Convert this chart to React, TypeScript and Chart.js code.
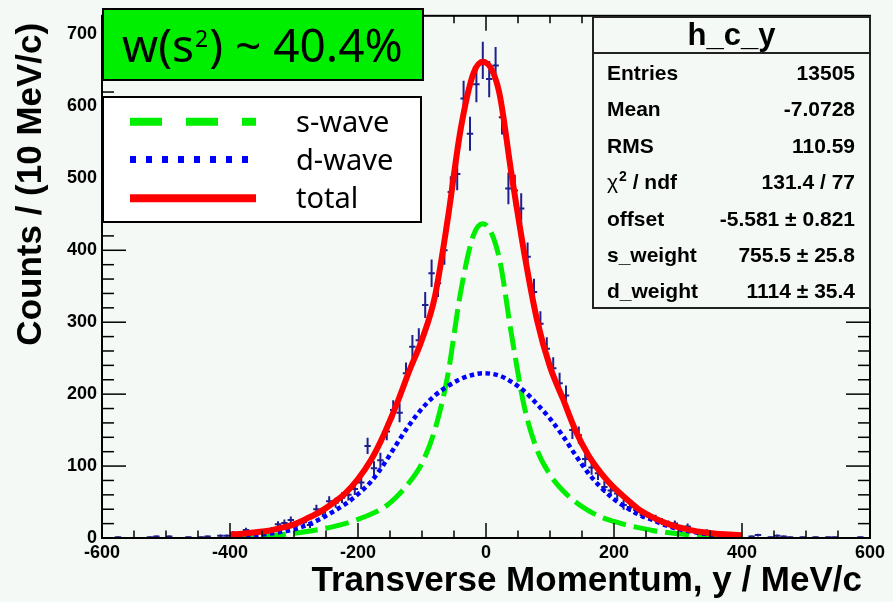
import React, { useEffect, useRef } from "react";
import { Chart, registerables } from "chart.js";

Chart.register(...registerables);

// Histogram binning: 120 bins of 10 MeV/c between -600 and 600
const binLow = -600;
const binWidth = 10;

// Counts per bin, ten bins per row (-600..-500, -500..-400, ...)
const counts = [
  0, 0, 1, 0, 0, 0, 0, 1, 2, 0,
  2, 0, 0, 1, 0, 1, 2, 0, 3, 3,
  7, 6, 11, 5, 7, 9, 12, 19, 21, 25,
  20, 22, 18, 40, 35, 51, 49, 56, 60, 68,
  77, 128, 97, 108, 148, 178, 174, 229, 266, 275,
  324, 368, 354, 400, 481, 506, 611, 562, 631, 664,
  638, 657, 585, 486, 483, 458, 391, 342, 298, 263,
  236, 215, 198, 150, 143, 110, 98, 90, 71, 66,
  62, 46, 43, 39, 32, 30, 27, 23, 20, 20,
  13, 16, 10, 8, 9, 5, 4, 3, 2, 2,
  0, 2, 4, 0, 1, 3, 2, 1, 0, 1,
  0, 1, 0, 1, 1, 0, 0, 0, 1, 0,
];

// Fit components sampled along the momentum axis
const fitX = [
  -400, -380, -360, -340, -320, -300, -280, -260, -240, -220,
  -200, -180, -160, -140, -120, -100, -80, -60, -40, -20,
  -5,
  20, 40, 60, 80, 100, 120, 140, 160, 180, 200,
  220, 240, 260, 280, 300, 320, 340, 360, 380, 400,
];
const sWave = [
  1, 1.5, 2, 3, 4.5, 6.5, 9, 12, 15.5, 20,
  26, 33, 42, 57, 77, 104, 150, 225, 340, 420,
  437,
  392, 282, 182, 122, 88, 66, 50, 38, 29, 23,
  18, 14, 10.5, 8, 6, 4.5, 3, 2, 1.5, 1,
];
const dWave = [
  1.5, 2.5, 4, 6, 8.5, 12, 18, 26, 36, 47,
  61, 78, 102, 130, 157, 180, 198, 211, 221, 227,
  229,
  226, 217, 204, 186, 166, 142, 115, 90, 70, 54,
  42, 32, 25, 18, 12.5, 9, 6, 4, 2.5, 1.5,
];
const total = [
  5, 6, 8, 10, 14, 19, 27, 36, 48, 62,
  82, 108, 143, 185, 232, 276, 335, 442, 566, 645,
  662,
  622, 505, 395, 302, 238, 194, 149, 115, 90, 70,
  54, 39, 29, 21, 15, 11, 8, 6, 5, 4,
];

const xTicks = [-600, -400, -200, 0, 200, 400, 600];
const yTicks = [0, 100, 200, 300, 400, 500, 600, 700];
const xRange = [-600, 600];
const yRange = [0, 726];

const xTitle = "Transverse Momentum, y / MeV/c";
const yTitle = "Counts / (10 MeV/c)";
const histName = "h_c_y";
const statsRows: [string, string][] = [
  ["Entries", "13505"],
  ["Mean", "-7.0728"],
  ["RMS", "110.59"],
  ["χ2 / ndf", "131.4 / 77"],
  ["offset", "-5.581 ± 0.821"],
  ["s_weight", "755.5 ± 25.8"],
  ["d_weight", "1114 ± 35.4"],
];
const legendLabels = ["s-wave", "d-wave", "total"];
const weightNote = { pre: "w(s", sup: "2", post: ") ~ 40.4%" };

const BG = "#f4f9f6";
const NAVY = "#1f1f8c";
const GREEN = "#00ee00";
const BLUE = "#0000ff";
const RED = "#ff0000";
const HELV = '"Liberation Sans", Arial, Helvetica, sans-serif';
const SANS = '"Noto Sans", "DejaVu Sans", sans-serif';

function seg(ctx: CanvasRenderingContext2D, x1: number, y1: number, x2: number, y2: number) {
  ctx.beginPath();
  ctx.moveTo(x1, y1);
  ctx.lineTo(x2, y2);
  ctx.stroke();
}

const padPlugin = {
  id: "rootPad",
  beforeDraw(chart: any) {
    const { ctx, width, height } = chart;
    ctx.save();
    ctx.fillStyle = BG;
    ctx.fillRect(0, 0, width, height);
    ctx.restore();
  },
  afterDatasetsDraw(chart: any) {
    const { ctx, chartArea: a, scales } = chart;
    const xs = scales.x;
    const ys = scales.y;
    ctx.save();
    ctx.strokeStyle = "#000";
    ctx.lineWidth = 1.5;
    // x axis ticks, bottom and top, pointing inwards
    for (let v = xRange[0]; v <= xRange[1]; v += 50) {
      const px = xs.getPixelForValue(v);
      const len = v % 200 === 0 ? 15 : 7.5;
      seg(ctx, px, a.bottom, px, a.bottom - len);
      seg(ctx, px, a.top, px, a.top + len);
    }
    // y axis ticks, left and right
    for (let v = yRange[0]; v <= yRange[1]; v += 20) {
      const py = ys.getPixelForValue(v);
      const len = v % 100 === 0 ? 24 : 12;
      seg(ctx, a.left, py, a.left + len, py);
      seg(ctx, a.right, py, a.right - len, py);
    }
    ctx.lineWidth = 2;
    ctx.strokeRect(a.left, a.top, a.right - a.left, a.bottom - a.top);
    ctx.restore();
  },
  afterDraw(chart: any) {
    const { ctx, chartArea: a } = chart;
    ctx.save();
    ctx.fillStyle = "#000";

    // axis titles
    ctx.font = `bold 35px ${HELV}`;
    ctx.textAlign = "right";
    ctx.textBaseline = "alphabetic";
    ctx.fillText(xTitle, a.right - 8, 591);
    ctx.save();
    ctx.translate(41, a.top + 7);
    ctx.rotate(-Math.PI / 2);
    ctx.fillText(yTitle, 0, 0);
    ctx.restore();

    // stats box
    const sx = 593, sy = 17, sw = a.right - 593, sh = 291;
    ctx.fillStyle = BG;
    ctx.fillRect(sx, sy, sw, sh);
    ctx.strokeStyle = "#222";
    ctx.lineWidth = 2;
    ctx.strokeRect(sx, sy, sw, sh);
    seg(ctx, sx, 53, sx + sw, 53);
    ctx.fillStyle = "#000";
    ctx.font = `bold 31px ${HELV}`;
    ctx.textAlign = "center";
    ctx.fillText(histName, sx + sw / 2, 45);
    statsRows.forEach(([label, value], i) => {
      const by = 80 + i * 36.4;
      ctx.textAlign = "left";
      if (label.startsWith("χ2")) {
        let x = 607;
        ctx.font = `21px ${HELV}`;
        ctx.fillText("χ", x, by);
        x += ctx.measureText("χ").width + 1;
        ctx.font = `bold 14px ${HELV}`;
        ctx.fillText("2", x, by - 8);
        x += ctx.measureText("2").width;
        ctx.font = `bold 21px ${HELV}`;
        ctx.fillText(label.slice(2), x, by);
      } else {
        ctx.font = `bold 21px ${HELV}`;
        ctx.fillText(label, 607, by);
      }
      ctx.font = `bold 21px ${HELV}`;
      ctx.textAlign = "right";
      ctx.fillText(value, 855, by);
    });

    // weight note
    ctx.fillStyle = GREEN;
    ctx.fillRect(102, 8, 322, 73);
    ctx.strokeStyle = "#000";
    ctx.lineWidth = 2;
    ctx.strokeRect(103, 9, 320, 71);
    ctx.fillStyle = "#000";
    ctx.textAlign = "left";
    let tx = 122;
    ctx.font = `46px ${SANS}`;
    ctx.fillText(weightNote.pre, tx, 62);
    tx += ctx.measureText(weightNote.pre).width + 1;
    ctx.font = `23px ${SANS}`;
    ctx.fillText(weightNote.sup, tx, 47);
    tx += ctx.measureText(weightNote.sup).width + 1;
    ctx.font = `46px ${SANS}`;
    ctx.fillText(weightNote.post, tx, 62);

    // legend
    ctx.fillStyle = "#fff";
    ctx.fillRect(102, 96, 320, 127);
    ctx.strokeStyle = "#000";
    ctx.lineWidth = 2;
    ctx.strokeRect(103, 97, 318, 125);
    const rows = [121.7, 159.5, 198.3];
    const styles = [
      { color: GREEN, width: 8, dash: [32, 24] },
      { color: BLUE, width: 7, dash: [6, 10] },
      { color: RED, width: 8, dash: [] as number[] },
    ];
    rows.forEach((ry, i) => {
      const s = styles[i];
      ctx.strokeStyle = s.color;
      ctx.lineWidth = s.width;
      ctx.lineCap = "butt";
      ctx.setLineDash(s.dash);
      seg(ctx, 130, ry, 256, ry);
      ctx.setLineDash([]);
      ctx.fillStyle = "#000";
      ctx.font = `29px ${SANS}`;
      ctx.fillText(legendLabels[i], 296, ry + 10);
    });
    ctx.restore();
  },
};

export default function App() {
  const ref = useRef<HTMLCanvasElement>(null);

  useEffect(() => {
    const canvas = ref.current;
    if (!canvas) return;

    const centers = counts.map((_, i) => binLow + binWidth * (i + 0.5));
    const filled = counts
      .map((c, i) => ({ x: centers[i], c }))
      .filter((p) => p.c > 0);
    const markers = filled.map((p) => ({ x: p.x, y: p.c }));
    const errors = filled.map((p) => ({
      x: p.x,
      y: [p.c - Math.sqrt(p.c), p.c + Math.sqrt(p.c)],
    }));
    const curve = (ys: number[]) => fitX.map((x, i) => ({ x, y: ys[i] }));

    const tickFont = { family: '"Liberation Sans", Arial, sans-serif', size: 18, weight: "bold" as const };

    const chart = new Chart(canvas, {
      type: "scatter",
      data: {
        datasets: [
          {
            type: "line",
            label: "total",
            data: curve(total),
            borderColor: RED,
            borderWidth: 6,
            pointRadius: 0,
            fill: false,
            cubicInterpolationMode: "monotone",
            order: 0,
          } as any,
          {
            type: "line",
            label: "d-wave",
            data: curve(dWave),
            borderColor: BLUE,
            borderWidth: 4.5,
            borderDash: [4.5, 3.5],
            borderCapStyle: "butt",
            pointRadius: 0,
            fill: false,
            cubicInterpolationMode: "monotone",
            order: 1,
          } as any,
          {
            type: "line",
            label: "s-wave",
            data: curve(sWave),
            borderColor: GREEN,
            borderWidth: 5,
            borderDash: [24, 8],
            borderCapStyle: "butt",
            pointRadius: 0,
            fill: false,
            cubicInterpolationMode: "monotone",
            order: 2,
          } as any,
          {
            type: "scatter",
            label: "data",
            data: markers,
            pointStyle: "line",
            pointRadius: 3.2,
            pointBorderWidth: 2,
            pointBorderColor: NAVY,
            pointBackgroundColor: NAVY,
            order: 3,
          } as any,
          {
            type: "bar",
            label: "errors",
            data: errors,
            backgroundColor: NAVY,
            borderWidth: 0,
            barThickness: 2,
            grouped: false,
            inflateAmount: 0,
            order: 4,
          } as any,
        ],
      },
      options: {
        animation: false,
        responsive: false,
        devicePixelRatio: 1,
        events: [],
        layout: { padding: { top: 15, right: 23, left: 0, bottom: 0 } },
        plugins: {
          legend: { display: false },
          tooltip: { enabled: false },
          title: { display: false },
        },
        scales: {
          x: {
            type: "linear",
            min: xRange[0],
            max: xRange[1],
            offset: false,
            grid: { display: false, drawTicks: false },
            border: { display: false },
            ticks: {
              color: "#000",
              font: tickFont,
              padding: 4,
              maxRotation: 0,
              autoSkip: false,
              callback: (v: any) => String(v),
            },
            afterBuildTicks: (s: any) => {
              s.ticks = xTicks.map((value) => ({ value }));
            },
            afterFit: (s: any) => {
              s.height = 64;
            },
          },
          y: {
            type: "linear",
            min: yRange[0],
            max: yRange[1],
            grid: { display: false, drawTicks: false },
            border: { display: false },
            ticks: {
              color: "#000",
              font: tickFont,
              padding: 5,
              autoSkip: false,
              callback: (v: any) => String(v),
            },
            afterBuildTicks: (s: any) => {
              s.ticks = yTicks.map((value) => ({ value }));
            },
            afterFit: (s: any) => {
              s.width = 102;
            },
          },
        },
      } as any,
      plugins: [padPlugin],
    });

    return () => chart.destroy();
  }, []);

  return (
    <div style={{ position: "fixed", left: 0, top: 0, width: 893, height: 602, background: BG }}>
      <canvas ref={ref} width={893} height={602} style={{ display: "block", width: 893, height: 602 }} />
    </div>
  );
}
